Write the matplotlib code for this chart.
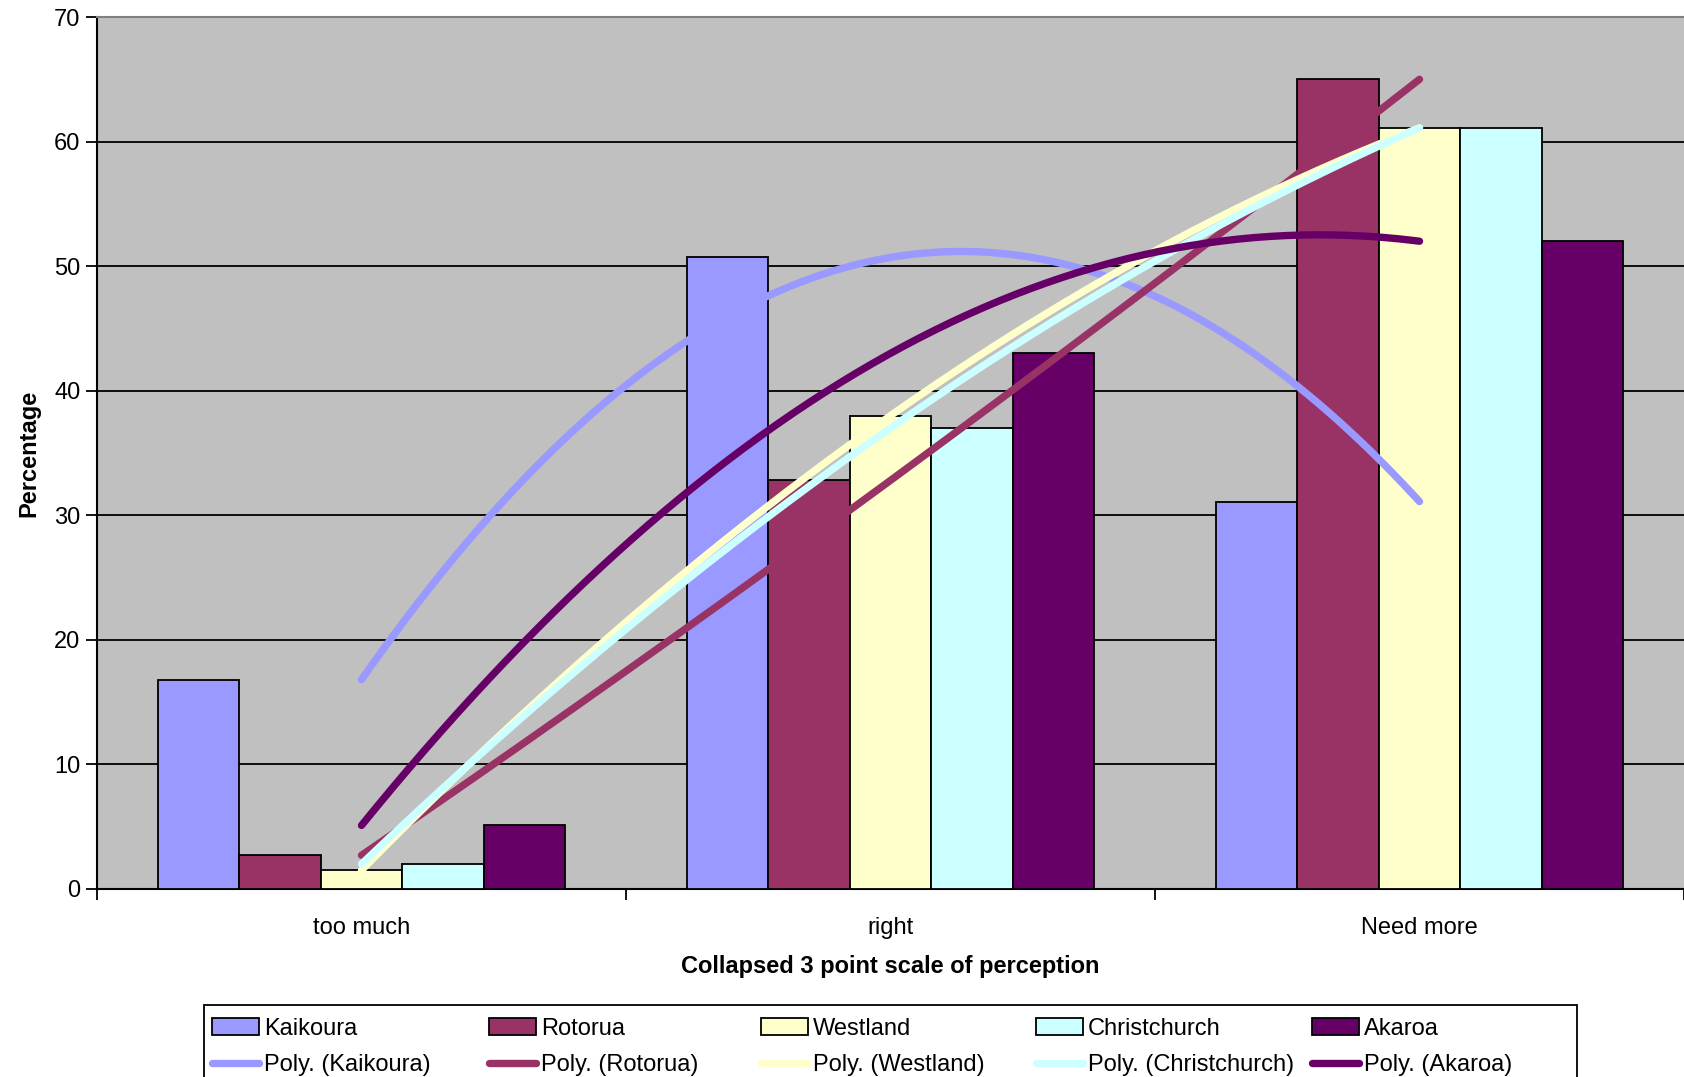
import numpy as np
import matplotlib.pyplot as plt
from matplotlib.patches import Rectangle

plt.rcParams['font.family'] = ['Liberation Sans', 'DejaVu Sans']

# Données
categories = ["too much", "right", "Need more"]
series = ["Kaikoura", "Rotorua", "Westland", "Christchurch", "Akaroa"]
kaikoura = [16.8, 50.7, 31.1]
rotorua = [2.7, 32.8, 65.0]
westland = [1.5, 38.0, 61.1]
christchurch = [2.0, 37.0, 61.1]
akaroa = [5.1, 43.0, 52.0]
colors = ["#9999FF", "#993366", "#FFFFCC", "#CCFFFF", "#660066"]

values = [kaikoura, rotorua, westland, christchurch, akaroa]

W, H = 1684, 1077
fig = plt.figure(figsize=(W / 100, H / 100), dpi=100)
ax = fig.add_axes([0.0576, 0.1746, 0.9424, 0.8096])
ax.set_facecolor("#C0C0C0")

x = np.arange(1, 4)
w = 1 / 6.5
bars = []
for i, (name, vals) in enumerate(zip(series, values)):
    b = ax.bar(x + (i - 2) * w, vals, width=w, color=colors[i],
               edgecolor="black", linewidth=1.3, zorder=3, label=name)
    bars.append(b)

# courbes de tendance polynomiales (ordre 2)
xs = np.linspace(1, 3, 200)
lines = []
for i, (name, vals) in enumerate(zip(series, values)):
    p = np.polyfit(x, vals, 2)
    l, = ax.plot(xs, np.polyval(p, xs), color=colors[i], lw=5.3,
                 solid_capstyle="round", zorder=4, label="Poly. (%s)" % name)
    lines.append(l)

ax.set_xlim(0.5, 3.5)
ax.set_ylim(0, 70)
ax.set_yticks(range(0, 71, 10))
ax.yaxis.grid(True, color="black", lw=1.3, zorder=1)
ax.set_axisbelow(True)
ax.set_xticks([0.5, 1.5, 2.5, 3.5])
ax.set_xticklabels([])
ax.set_xticks(x, minor=True)
ax.set_xticklabels(categories, minor=True)
ax.tick_params(axis="x", which="major", length=8, width=1.3, direction="out")
ax.tick_params(axis="x", which="minor", length=0, pad=20, labelsize=17)
ax.tick_params(axis="y", length=8, width=1.3, labelsize=17, pad=4)

for s in ["left", "bottom"]:
    ax.spines[s].set_color("black")
    ax.spines[s].set_linewidth(1.5)
ax.spines["top"].set_color("#808080")
ax.spines["top"].set_linewidth(1.5)
ax.spines["right"].set_visible(False)

ax.set_xlabel("Collapsed 3 point scale of perception", fontsize=17,
              fontweight="bold", labelpad=12)
ax.set_ylabel("Percentage", fontsize=17, fontweight="bold", labelpad=10)

# légende : cadre + 5 colonnes régulières
fig.patches.append(Rectangle((204 / W, -0.05), (1577 - 204) / W,
                             0.05 + 1 - 1005 / H, transform=fig.transFigure,
                             facecolor="white", edgecolor="black", lw=1.3))
col_x = [212, 489, 761, 1036, 1312]
for b, l, cx in zip(bars, lines, col_x):
    lg = fig.legend(handles=[b, l], labels=[b.get_label(), l.get_label()],
                    loc="upper left", bbox_to_anchor=(cx / W, 1 - 1018 / H),
                    fontsize=17, frameon=False, handlelength=2.0,
                    handletextpad=0.2, labelspacing=0.6, borderpad=0,
                    borderaxespad=0)

fig.savefig("out.png", dpi=100)
